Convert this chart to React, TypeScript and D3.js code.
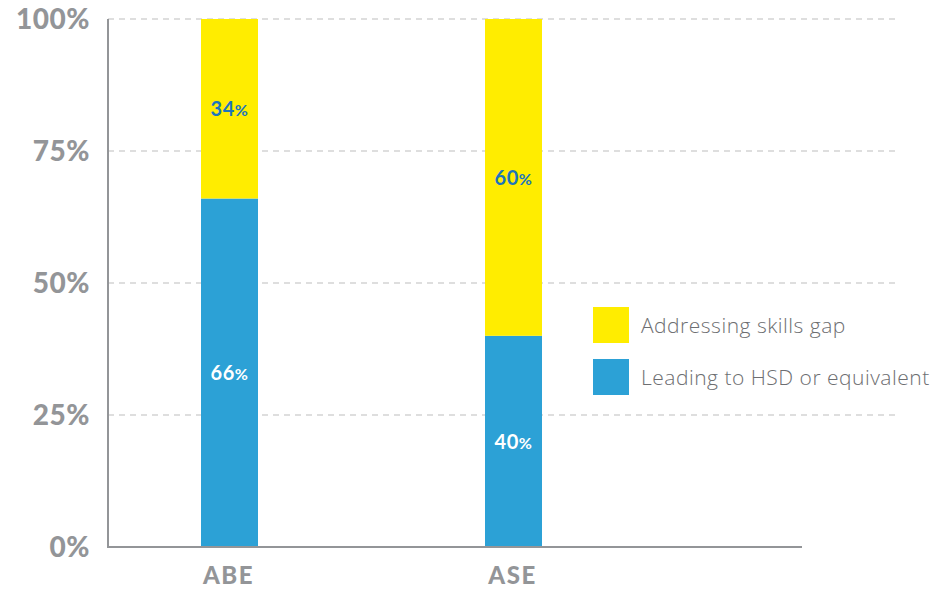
import React from "react";
import * as d3 from "d3";

const categories = ["ABE", "ASE"];
const hsdValues = [66, 40];
const skillsValues = [34, 60];
const seriesNames = ["Addressing skills gap", "Leading to HSD or equivalent"];
const yTicks = [0, 25, 50, 75, 100];

const W = 938;
const H = 589;
const YELLOW = "#FFED00";
const BLUE = "#2CA1D6";
const GRAY = "#939598";

export default function App() {
  const x0 = 108;
  const x1 = 802;
  const y = d3.scaleLinear().domain([0, 100]).range([547, 19]);
  const centers = d3.scaleOrdinal<string, number>().domain(categories).range([229.5, 513.5]);
  const bw = 57;
  const font = "Lato, 'Open Sans', sans-serif";

  return (
    <svg width={W} height={H} style={{ position: "absolute", left: 0, top: 0 }} fontFamily={font}>
      {yTicks.map((t) => (
        <g key={t}>
          {t > 0 && (
            <line x1={x0} x2={895} y1={y(t)} y2={y(t)} stroke="#d4d4d4" strokeWidth={1.6} strokeDasharray="6,5" />
          )}
          <text x={90} y={y(t)} dy="0.36em" textAnchor="end" fontSize={28} fontWeight={900} fill={GRAY} letterSpacing={0.5}>
            {t}%
          </text>
        </g>
      ))}
      {categories.map((c, i) => {
        const cx = centers(c);
        const xl = cx - bw / 2;
        const hs = hsdValues[i];
        const sk = skillsValues[i];
        return (
          <g key={c}>
            <rect x={xl} width={bw} y={y(hs)} height={y(0) - y(hs)} fill={BLUE} />
            <rect x={xl} width={bw} y={y(hs + sk)} height={y(hs) - y(hs + sk)} fill={YELLOW} />
            <text x={cx} y={(y(0) + y(hs)) / 2} dy="0.36em" textAnchor="middle" fontSize={20} fontWeight={700} fill="#ffffff" letterSpacing={0.5}>
              {hs}
              <tspan fontSize={16}>%</tspan>
            </text>
            <text x={cx} y={(y(hs) + y(hs + sk)) / 2} dy="0.36em" textAnchor="middle" fontSize={20} fontWeight={700} fill="#1C75BC" letterSpacing={0.5}>
              {sk}
              <tspan fontSize={16}>%</tspan>
            </text>
            <text x={cx - 1} y={575} dy="0.36em" textAnchor="middle" fontSize={24} fontWeight={900} fill={GRAY} letterSpacing={1.5}>
              {c}
            </text>
          </g>
        );
      })}
      <line x1={x0} x2={x0} y1={19} y2={548} stroke={GRAY} strokeWidth={2} />
      <line x1={x0 - 1} x2={x1} y1={547} y2={547} stroke={GRAY} strokeWidth={2} />
      {seriesNames.map((s, i) => (
        <g key={s} transform={`translate(593,${307 + i * 52})`}>
          <rect width={36} height={36} fill={i === 0 ? YELLOW : BLUE} />
          <text x={48} y={18} dy="0.36em" fontSize={21} fontWeight={300} fill="#6D6E71" fontFamily="'Open Sans', Lato, sans-serif" letterSpacing={0.5}>
            {s}
          </text>
        </g>
      ))}
    </svg>
  );
}
